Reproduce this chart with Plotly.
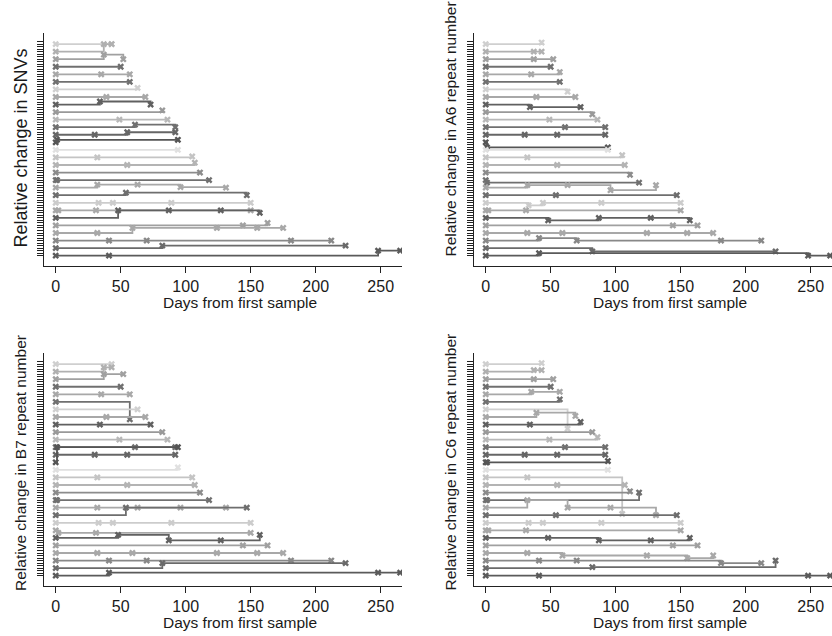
import plotly.graph_objects as go

# ---- data: one entry per patient (row), top to bottom ----
days = [
    [0, 43], [0, 37, 43], [0, 37, 52], [0, 50], [0, 35, 57], [0, 57], [0, 63],
    [0, 39, 69], [0, 34, 73], [0, 82], [0, 49, 86], [0, 61, 92], [0, 30, 55, 92],
    [0, 1, 94], [0, 94], [0, 32, 105], [0, 55, 107], [0, 111], [0, 1, 118],
    [0, 32, 63, 96, 131], [0, 54, 147], [0, 33, 44, 89, 150], [0, 2, 31, 150],
    [0, 48, 87, 127, 157], [0, 144, 163], [0, 32, 59, 124, 155, 175],
    [0, 41, 70, 181, 212], [0, 82, 223], [0, 41, 248, 265],
]

row_colors = [
    "#cfcfcf", "#b0b0b0", "#a0a0a0", "#707070", "#a8a8a8", "#707070", "#d0d0d0",
    "#a8a8a8", "#606060", "#999999", "#b8b8b8", "#707070", "#666666", "#555555",
    "#e0e0e0", "#c4c4c4", "#b4b4b4", "#8c8c8c", "#707070", "#a8a8a8", "#6e6e6e",
    "#cccccc", "#a8a8a8", "#606060", "#a0a0a0", "#a8a8a8", "#888888", "#6a6a6a",
    "#5a5a5a",
]

snv_change = [
    [0, 0], [0, 3, 3], [0, 1.8, 0], [0, 0], [0, 0, 0], [0, 0], [0, 0.6],
    [0, 0, 0], [0, 1.2, 0], [0, 0.7], [0, 0, 0], [0, 1, 0], [0, 0, 1, 1],
    [0, 1, 1], [0, 0], [0, 0, 0.4], [0, 0, 0.9], [0, 0], [0, 0, 0],
    [0, 1.2, 1.2, 0.2, 0], [0, 1, 0], [0, 0, 0, 0, 0], [0, 0, 0, 0],
    [0, 3, 3, 3, 2], [0, 0, 1], [0, 0, 2, 2, 2, 2],
    [0, 0, 0, 0, 0], [0, 1, 1], [0, 0, 2, 2],
]

a6_change = [
    [0, 0.6], [0, 0, 0], [0, 0, 0], [0, 0], [0, 0, 0.9], [0, 0], [0, -0.9],
    [0, 0, 0], [0, -1, -1], [0, -0.9], [0, 0, 0], [0, 0, 0], [0, 0, 0, 0],
    [0, -2, -2], [0, 0], [0, 0, 0.9], [0, 0, 0], [0, -0.9], [0, -1, -1],
    [0, 1, 1, -1, 1], [0, 0, 0], [0, -1, 0, 0, 0], [0, 0, 0, 0],
    [0, -1, 0, 0, -1], [0, 0, 0], [0, 0, 0, 0, 0, 0],
    [0, 1, 0, 0, 0], [0, -1.3, -1.3], [0, 1, 0, 0],
]

b7_change = [
    [0, 0], [0, 1.7, 1.7], [0, 2, 2], [0, 0], [0, 0, 0], [0, -6.9], [0, 0],
    [0, 0, 0], [0, 0, 0], [0, 0], [0, 0, 0], [0, 0, 0], [0, 0, 0, 0],
    [0, 6, 6], [0, 1], [0, 0, 0], [0, 0, 0], [0, 0], [0, 0, 0],
    [0, 0, 0, 0, 0], [0, 3, 3], [0, 0, 0, 0, 0], [0, -1, -1, -1],
    [0, 1.2, -1, -1, 1.2], [0, 0, 0], [0, 0, 0, 0, 0, 0],
    [0, 0, 0, 0, 0], [0, 2, 2], [0, 1.2, 1.2, 1.2],
]

c6_change = [
    [0, 0.4], [0, 0.6, 0.6], [0, 0, 0], [0, 0], [0, 1, 1], [0, 1], [0, -7.7],
    [0, 1.7, 0.4], [0, 0, 1], [0, 0], [0, 0, 1], [0, 0, 0], [0, 0, 0, 0],
    [0, 0, 0.5], [0, 0], [0, 0, -14.5], [0, 0, 0], [0, 0.5], [0, 0, 3],
    [0, 3, 0, 0, -3], [0, 0, 0], [0, 0, 0, 0, 0], [0, 0, 0, 0],
    [0, 0, -1, -1, 0], [0, 0, 0], [0, 0, -1, -1, -2, -1],
    [0, 0, 0, -1, -1], [0, 0.4, 3], [0, 0, 0, 0],
]

x_ticks = [0, 50, 100, 150, 200, 250]
y_titles = [
    "Relative change in SNVs",
    "Relative change in A6 repeat number",
    "Relative change in B7 repeat number",
    "Relative change in C6 repeat number",
]
x_title = "Days from first sample"

# ---- layout geometry (pixels) ----
W, H = 832, 636
ROW_STEP = 3
n_rows = len(days)
panel_x = [(44, 402), (474, 832), (44, 402), (474, 832)]
panel_y = [(33, 266), (33, 266), (353, 586), (353, 586)]
FONT = "Liberation Sans, Arial, Helvetica, sans-serif"
AXC = "#222222"
TXT = "#1a1a1a"

fig = go.Figure()
all_changes = [snv_change, a6_change, b7_change, c6_change]
for p, changes in enumerate(all_changes):
    suf = "" if p == 0 else str(p + 1)
    for k in range(n_rows):
        base = ROW_STEP * (n_rows - 1 - k)
        fig.add_trace(go.Scatter(
            x=days[k], y=[base + c for c in changes[k]],
            mode="lines+markers",
            line=dict(shape="hv", color=row_colors[k], width=1.8),
            marker=dict(symbol="x", size=6, color=row_colors[k]),
            xaxis="x" + suf, yaxis="y" + suf,
            showlegend=False, hoverinfo="skip",
        ))

layout = dict(
    width=W, height=H, margin=dict(l=0, r=0, t=0, b=0),
    paper_bgcolor="white", plot_bgcolor="white",
    font=dict(family=FONT, color=TXT),
    annotations=[],
)
for p in range(4):
    suf = "" if p == 0 else str(p + 1)
    x0, x1 = panel_x[p]
    y0, y1 = panel_y[p]
    layout["xaxis" + suf] = dict(
        domain=[x0 / W, x1 / W], range=[-9, 266.4], anchor="y" + suf,
        tickvals=x_ticks, ticks="outside", ticklen=6, tickcolor=AXC,
        showline=True, linecolor=AXC, linewidth=1, showgrid=False,
        zeroline=False, tickfont=dict(size=16, family=FONT, color=TXT),
    )
    layout["yaxis" + suf] = dict(
        domain=[1 - y1 / H, 1 - y0 / H], range=[-4.1, 88.4], anchor="x" + suf,
        tickvals=list(range(0, 86)), showticklabels=False, ticks="outside",
        ticklen=6, tickcolor=AXC, tickwidth=1,
        showline=True, linecolor=AXC, linewidth=1, showgrid=False, zeroline=False,
    )
    offx = 0 if p % 2 == 0 else 430
    offy = 0 if p < 2 else 320
    layout["annotations"].append(dict(
        text=x_title, x=(offx + 239.5) / W, y=1 - (offy + 302) / H,
        xref="paper", yref="paper", showarrow=False,
        xanchor="center", yanchor="middle",
        font=dict(size=15.5, family=FONT, color=TXT),
    ))
    if p == 0:
        layout["annotations"].append(dict(
            text=y_titles[p], x=20 / W, y=1 - 148.5 / H, xref="paper", yref="paper",
            showarrow=False, textangle=-90, xanchor="center", yanchor="middle",
            font=dict(size=18, family=FONT, color=TXT),
        ))
    else:
        bottom = {1: 259, 2: 593, 3: 593}[p]
        layout["annotations"].append(dict(
            text=y_titles[p], x=(offx + 20) / W, y=1 - bottom / H,
            xref="paper", yref="paper",
            showarrow=False, textangle=-90, xanchor="center", yanchor="bottom",
            font=dict(size=15.5, family=FONT, color=TXT),
        ))

fig.update_layout(**layout)
fig.write_html("out.html")
